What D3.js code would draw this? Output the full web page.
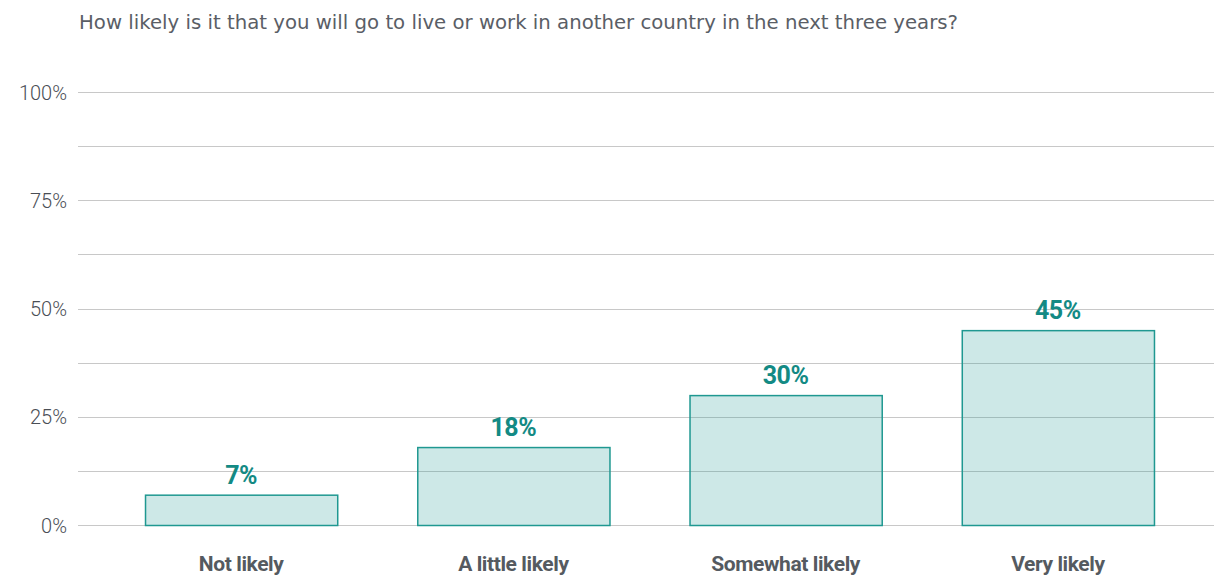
<!DOCTYPE html>
<html>
<head>
<meta charset="utf-8">
<script src="https://cdn.jsdelivr.net/npm/d3@7"></script>
<style>
  html, body { margin: 0; padding: 0; background: #fff; }
  svg { display: block; }
</style>
</head>
<body>
<svg id="chart" width="1214" height="577"></svg>
<script>
const title = "How likely is it that you will go to live or work in another country in the next three years?";
const categories = ["Not likely", "A little likely", "Somewhat likely", "Very likely"];
const values = [7, 18, 30, 45];
const tickValues = [0, 25, 50, 75, 100];
const gridValues = [0, 12.5, 25, 37.5, 50, 62.5, 75, 87.5, 100];

const svg = d3.select("#chart");
const plotLeft = 78, plotRight = 1214;
const y = d3.scaleLinear().domain([0, 100]).range([525, 92]);
const x = d3.scaleBand().domain(categories).range([105, 1194]).paddingInner(0.294).paddingOuter(0.147);

// title
svg.append("text")
  .attr("x", 79).attr("y", 29)
  .attr("font-family", "'DejaVu Sans', sans-serif")
  .attr("font-size", 19)
  .attr("textLength", 879)
  .attr("lengthAdjust", "spacingAndGlyphs")
  .attr("fill", "#5a5e66")
  .text(title);

// horizontal gridlines
svg.append("g").selectAll("line").data(gridValues).join("line")
  .attr("x1", plotLeft).attr("x2", plotRight)
  .attr("y1", d => Math.round(y(d)) + 0.5).attr("y2", d => Math.round(y(d)) + 0.5)
  .attr("stroke", "#c8c8c8").attr("stroke-width", 1);

// y axis labels
const yAxis = d3.axisLeft(y).tickValues(tickValues).tickFormat(d => d + "%").tickSize(0).tickPadding(0);
const ya = svg.append("g").attr("transform", "translate(67,0)").call(yAxis);
ya.select(".domain").remove();
ya.selectAll("text")
  .attr("font-family", "Roboto, sans-serif")
  .attr("font-weight", 300)
  .attr("font-size", 20)
  .attr("fill", "#4a4e55")
  .attr("dy", "0.35em");

// bars
svg.append("g").selectAll("rect").data(values).join("rect")
  .attr("x", (d, i) => x(categories[i]) + 0.5)
  .attr("y", d => y(d) + 0.5)
  .attr("width", x.bandwidth())
  .attr("height", d => y(0) - y(d))
  .attr("fill", "rgba(26,150,144,0.22)")
  .attr("stroke", "#1f9891")
  .attr("stroke-width", 1.5);

// value labels
svg.append("g").selectAll("text").data(values).join("text")
  .attr("x", (d, i) => x(categories[i]) + x.bandwidth() / 2)
  .attr("y", d => y(d) - 11)
  .attr("text-anchor", "middle")
  .attr("font-family", "Roboto, sans-serif")
  .attr("font-weight", "bold")
  .attr("font-size", 25)
  .attr("letter-spacing", -0.5)
  .attr("fill", "#138a84")
  .text(d => d + "%");

// category labels
const xAxis = d3.axisBottom(x).tickSize(0).tickPadding(0);
const xa = svg.append("g").attr("transform", "translate(0,571)").call(xAxis);
xa.select(".domain").remove();
xa.selectAll("text")
  .attr("font-family", "Roboto, sans-serif")
  .attr("font-weight", "bold")
  .attr("font-size", 21)
  .attr("letter-spacing", -0.4)
  .attr("fill", "#555a60")
  .attr("dy", 0)
  .attr("y", 0);
</script>
</body>
</html>
